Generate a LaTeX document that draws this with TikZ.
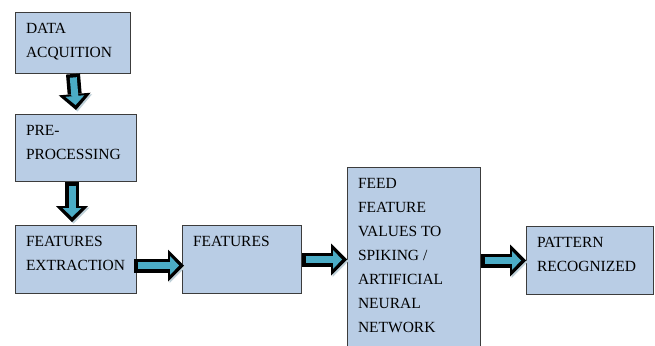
\documentclass[tikz,border=0pt]{standalone}
\usepackage{fontspec}
\setmainfont{Liberation Serif}
\usetikzlibrary{arrows.meta}
\definecolor{boxfill}{RGB}{185,205,229}
\definecolor{boxline}{RGB}{60,60,60}
\definecolor{arrowfill}{RGB}{75,172,198}
\definecolor{arrowshade}{RGB}{190,208,216}
\newcommand{\stagetext}[3]{\parbox[c][\dimexpr#2pt-22pt\relax][t]{\dimexpr#1pt-21pt\relax}{\raggedright #3}}

\begin{document}
\begin{tikzpicture}[x=1pt, y=-1pt,
    stage/.style={draw=boxline, line width=1pt, fill=boxfill, anchor=north west,
        inner xsep=10.5pt, inner ysep=11pt, font=\fontsize{15.5}{24}\selectfont},
    blockarrow/.style={draw=black, line width=14pt,
        -{Triangle[length=16pt, width=32pt, line width'=0pt]},
        preaction={draw=arrowshade, transform canvas={shift={(1.5pt,-1.5pt)}}},
        postaction={draw=arrowfill, line width=7pt,
            -{Triangle[length=9pt, width=19pt, line width'=0pt]},
            shorten >=5pt, shorten <=3.5pt}}]
    \useasboundingbox (0,0) rectangle (655,345);
    \clip (0,0) rectangle (655,345);
    % stages
    \node [stage] (data) at (15,12) {\stagetext{115}{61}{DATA\\ACQUITION}};
    \node [stage] (prep) at (15,114) {\stagetext{121}{67}{PRE-\\PROCESSING}};
    \node [stage] (extr) at (15,225) {\stagetext{121}{68}{FEATURES\\EXTRACTION}};
    \node [stage] (feat) at (182,225) {\stagetext{119}{68}{FEATURES}};
    \node [stage] (feed) at (347,167) {\stagetext{133}{190}{FEED\\FEATURE\\VALUES TO\\SPIKING /\\ARTIFICIAL\\NEURAL\\NETWORK}};
    \node [stage] (patt) at (526,226) {\stagetext{127}{68}{PATTERN\\RECOGNIZED}};
    % arrows
    \draw [blockarrow] (data.south) -- ([yshift=4pt]prep.north);
    \draw [blockarrow] ([xshift=-4pt]prep.south) -- ([xshift=-4pt,yshift=3pt]extr.north);
    \draw [blockarrow] ([xshift=-3pt,yshift=-6pt]extr.east) -- ([xshift=2pt,yshift=-6pt]feat.west);
    \draw [blockarrow] (feat.east) -- (feat.east -| feed.west);
    \draw [blockarrow] (patt.west -| feed.east) -- (patt.west);
\end{tikzpicture}
\end{document}
